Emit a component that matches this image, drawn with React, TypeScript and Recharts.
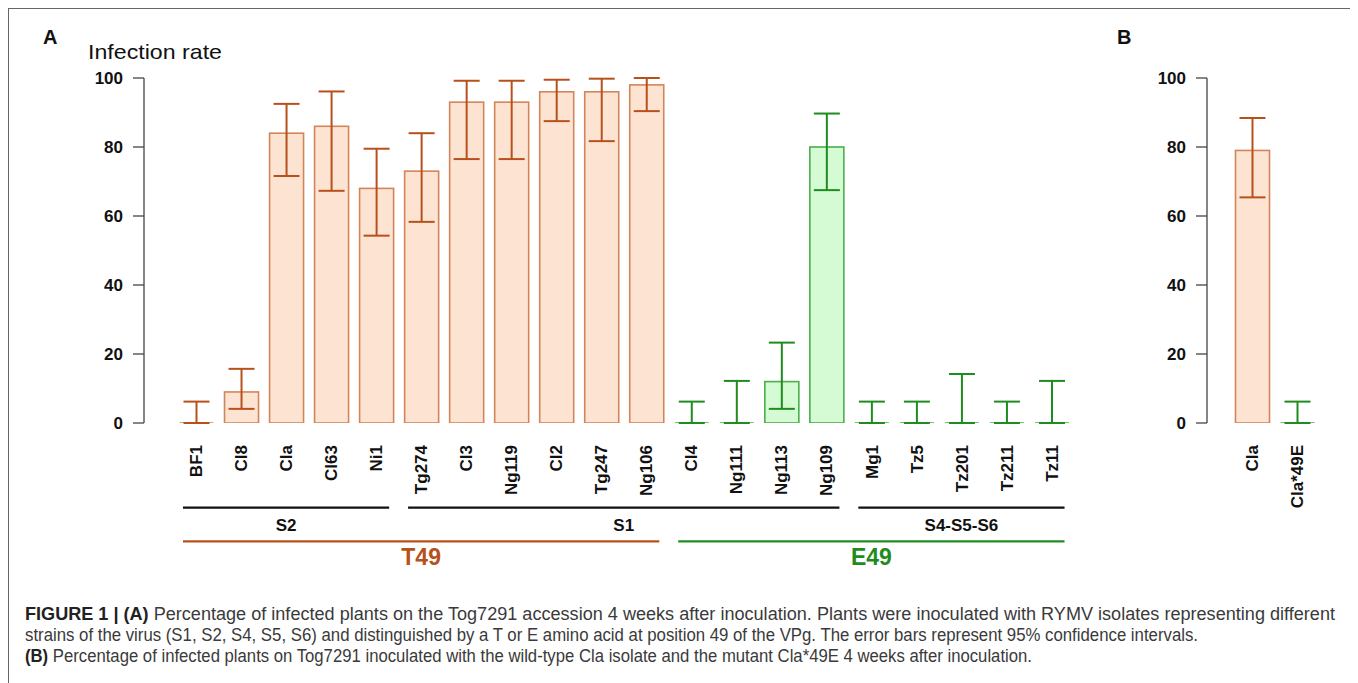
import React from "react";
import { BarChart, Bar, XAxis, YAxis, ErrorBar, ReferenceLine } from "recharts";

// isolates of panel A, in plot order
const isolatesA = [
  "BF1", "Cl8", "Cla", "Cl63", "Ni1", "Tg274", "Cl3", "Ng119", "Cl2", "Tg247",
  "Ng106", "Cl4", "Ng111", "Ng113", "Ng109", "Mg1", "Tz5", "Tz201", "Tz211", "Tz11",
];
const allelesA = [
  "T", "T", "T", "T", "T", "T", "T", "T", "T", "T",
  "T", "E", "E", "E", "E", "E", "E", "E", "E", "E",
];
const ratesA = [0, 9, 84, 86, 68, 73, 93, 93, 96, 96, 98, 0, 0, 12, 80, 0, 0, 0, 0, 0];
const ciLowA = [0, 4.1, 71.6, 67.3, 54.3, 58.3, 76.5, 76.5, 87.5, 81.7, 90.4, 0, 0, 4.1, 67.5, 0, 0, 0, 0, 0];
const ciHighA = [6.2, 15.7, 92.5, 96.1, 79.5, 84, 99.2, 99.2, 99.5, 99.8, 100, 6.2, 12.2, 23.3, 89.7, 6.2, 6.2, 14.2, 6.2, 12.2];

// panel B
const isolatesB = ["Cla", "Cla*49E"];
const allelesB = ["T", "E"];
const ratesB = [79, 0];
const ciLowB = [65.4, 0];
const ciHighB = [88.4, 6.2];

const yTicks = [0, 20, 40, 60, 80, 100];

const strainGroups = [
  { label: "S2", from: 0, to: 4 },
  { label: "S1", from: 5, to: 14 },
  { label: "S4-S5-S6", from: 15, to: 19 },
];
const alleleGroups = [
  { label: "T49", allele: "T", from: 0, to: 10 },
  { label: "E49", allele: "E", from: 11, to: 19 },
];

const COLORS: Record<string, { fill: string; edge: string; err: string }> = {
  T: { fill: "#fde4d2", edge: "#d2855a", err: "#b8501c" },
  E: { fill: "#d4fbd4", edge: "#4cae4c", err: "#1f8c1f" },
};

const SANS = "'Liberation Sans', Arial, Helvetica, sans-serif";

const buildRows = (names: string[], alleles: string[], rates: number[], lo: number[], hi: number[]) =>
  names.map((name, i) => ({
    name,
    idx: i,
    allele: alleles[i],
    rate: rates[i],
    err: [rates[i] - lo[i], hi[i] - rates[i]],
  }));

const rowsA = buildRows(isolatesA, allelesA, ratesA, ciLowA, ciHighA);
const rowsB = buildRows(isolatesB, allelesB, ratesB, ciLowB, ciHighB);

const errT = (d: any) => (d.allele === "T" ? d.err : null);
const errE = (d: any) => (d.allele === "E" ? d.err : null);

// zero-height bars are drawn as a flat outline, like R's barplot
const BarShape = (p: any) => {
  const { x, y, width, height, payload } = p;
  const c = COLORS[payload.allele];
  if (Math.abs(height) < 0.5) {
    return <line x1={x} x2={x + width} y1={y} y2={y} stroke={c.edge} strokeWidth={1.6} />;
  }
  return <rect x={x} y={y} width={width} height={height} fill={c.fill} stroke={c.edge} strokeWidth={1.6} />;
};

const IsolateTick = (p: any) => {
  const { x, y, payload } = p;
  return (
    <text
      transform={`translate(${x},${y + 22}) rotate(-90)`}
      textAnchor="end"
      dy="0.36em"
      fill="#111"
      fontFamily={SANS}
      fontWeight={700}
      fontSize={17}
    >
      {payload.value}
    </text>
  );
};

const GroupLabel = (p: any) => {
  const { viewBox, text, color, size, dy } = p;
  if (!viewBox) return null;
  const { x, y, width, height } = viewBox;
  return (
    <text
      x={x + width / 2}
      y={y + (height || 0) + dy}
      textAnchor="middle"
      fill={color}
      fontFamily={SANS}
      fontWeight={700}
      fontSize={size}
    >
      {text}
    </text>
  );
};

const yTick = { fill: "#111", fontSize: 17, fontWeight: 700, fontFamily: SANS };
const EXT = 0.29;

export default function App() {
  return (
    <div
      style={{
        position: "relative",
        width: 1342,
        height: 690,
        border: "1px solid #666",
        fontFamily: SANS,
      }}
    >
      <div style={{ position: "absolute", left: 0, top: 0 }}>
        <BarChart
          width={1075}
          height={580}
          data={rowsA}
          margin={{ top: 69, right: 10, bottom: 66, left: 75 }}
          barSize={34}
        >
          <XAxis
            dataKey="name"
            interval={0}
            axisLine={false}
            tickLine={false}
            tickSize={0}
            tickMargin={0}
            height={100}
            padding={{ left: 29.5, right: 0 }}
            tick={<IsolateTick />}
          />
          <XAxis
            xAxisId="idx"
            type="number"
            dataKey="idx"
            domain={[-0.5, isolatesA.length - 0.5]}
            allowDataOverflow
            hide
            padding={{ left: 29.5, right: 0 }}
          />
          <YAxis
            domain={[0, 100]}
            ticks={yTicks}
            width={60}
            tickSize={11}
            tickMargin={10}
            stroke="#444"
            strokeWidth={1.3}
            tick={yTick}
            allowDataOverflow
          />
          <Bar dataKey="rate" shape={<BarShape />} isAnimationActive={false}>
            <ErrorBar dataKey={errT} width={13} stroke={COLORS.T.err} strokeWidth={2} isAnimationActive={false} />
            <ErrorBar dataKey={errE} width={13} stroke={COLORS.E.err} strokeWidth={2} isAnimationActive={false} />
          </Bar>
          {strainGroups.map((g) => (
            <ReferenceLine
              key={g.label}
              xAxisId="idx"
              ifOverflow="visible"
              stroke="#111"
              strokeWidth={2.2}
              segment={[
                { x: g.from - EXT, y: -24.5 },
                { x: g.to + EXT, y: -24.5 },
              ]}
              label={<GroupLabel text={g.label} color="#111" size={17} dy={23.5} />}
            />
          ))}
          {alleleGroups.map((g) => (
            <ReferenceLine
              key={g.label}
              xAxisId="idx"
              ifOverflow="visible"
              stroke={COLORS[g.allele].err}
              strokeWidth={2.2}
              segment={[
                { x: g.from - EXT, y: -34.3 },
                { x: g.to + EXT, y: -34.3 },
              ]}
              label={<GroupLabel text={g.label} color={COLORS[g.allele].err} size={23} dy={23.5} />}
            />
          ))}
        </BarChart>
      </div>

      <div style={{ position: "absolute", left: 1121, top: 0 }}>
        <BarChart
          width={200}
          height={580}
          data={rowsB}
          margin={{ top: 69, right: 10.5, bottom: 66, left: 17 }}
          barSize={34}
        >
          <XAxis
            dataKey="name"
            interval={0}
            axisLine={false}
            tickLine={false}
            tickSize={0}
            tickMargin={0}
            height={100}
            padding={{ left: 22.5, right: 0 }}
            tick={<IsolateTick />}
          />
          <YAxis
            domain={[0, 100]}
            ticks={yTicks}
            width={60}
            tickSize={11}
            tickMargin={10}
            stroke="#444"
            strokeWidth={1.3}
            tick={yTick}
            allowDataOverflow
          />
          <Bar dataKey="rate" shape={<BarShape />} isAnimationActive={false}>
            <ErrorBar dataKey={errT} width={13} stroke={COLORS.T.err} strokeWidth={2} isAnimationActive={false} />
            <ErrorBar dataKey={errE} width={13} stroke={COLORS.E.err} strokeWidth={2} isAnimationActive={false} />
          </Bar>
        </BarChart>
      </div>

      <svg
        width={1342}
        height={690}
        style={{ position: "absolute", left: 0, top: 0, pointerEvents: "none" }}
      >
        <text x={34} y={35} fontFamily={SANS} fontWeight={700} fontSize={20} fill="#111">A</text>
        <text x={1108} y={35} fontFamily={SANS} fontWeight={700} fontSize={20} fill="#111">B</text>
        <text x={79} y={50} fontFamily={SANS} fontSize={21} fill="#111" textLength={134} lengthAdjust="spacingAndGlyphs">
          Infection rate
        </text>
        <g fontFamily="'Liberation Sans Narrow', 'Liberation Sans', Arial, sans-serif" fontSize={17.5} fill="#3a3a3a">
          <text x={16} y={611} textLength={1310} lengthAdjust="spacingAndGlyphs">
            <tspan fontWeight={700} fill="#222">FIGURE 1 | (A)</tspan> Percentage of infected plants on the Tog7291
            accession 4 weeks after inoculation. Plants were inoculated with RYMV isolates representing different
          </text>
          <text x={16} y={632} textLength={1173} lengthAdjust="spacingAndGlyphs">
            strains of the virus (S1, S2, S4, S5, S6) and distinguished by a T or E amino acid at position 49 of the
            VPg. The error bars represent 95% confidence intervals.
          </text>
          <text x={16} y={653} textLength={1007} lengthAdjust="spacingAndGlyphs">
            <tspan fontWeight={700} fill="#222">(B)</tspan> Percentage of infected plants on Tog7291 inoculated with the
            wild-type Cla isolate and the mutant Cla*49E 4 weeks after inoculation.
          </text>
        </g>
      </svg>
    </div>
  );
}
